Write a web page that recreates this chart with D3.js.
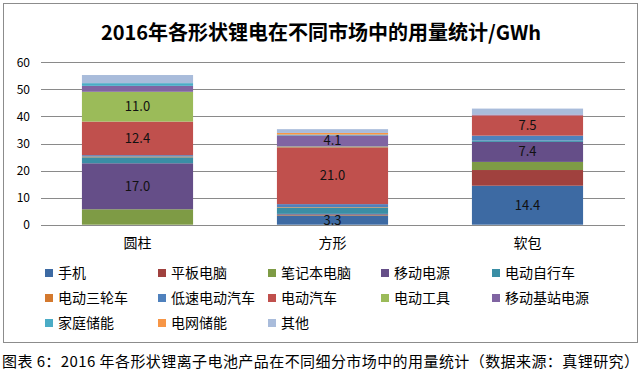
<!DOCTYPE html>
<html><head><meta charset="utf-8">
<script src="https://cdn.jsdelivr.net/npm/d3@7/dist/d3.min.js"></script>
<style>
html,body{margin:0;padding:0;background:#fff;}
svg{display:block;font-family:"Noto Sans CJK SC","Noto Sans",sans-serif;}
</style></head>
<body><svg id="c" width="643" height="379"></svg>
<script>
const categories = ["圆柱", "方形", "软包"];
const seriesNames = ["手机","平板电脑","笔记本电脑","移动电源","电动自行车","电动三轮车","低速电动汽车","电动汽车","电动工具","移动基站电源","家庭储能","电网储能","其他"];
// values per series for [圆柱, 方形, 软包]
const s手机 = [0, 3.3, 14.4];
const s平板电脑 = [0, 0.2, 5.8];
const s笔记本电脑 = [5.7, 0.2, 3.0];
const s移动电源 = [17.0, 0.3, 7.4];
const s电动自行车 = [2.2, 2.3, 0.5];
const s电动三轮车 = [0.3, 0.2, 0];
const s低速电动汽车 = [0.5, 1.1, 1.8];
const s电动汽车 = [12.4, 21.0, 7.5];
const s电动工具 = [11.0, 0.3, 0];
const s移动基站电源 = [2.2, 4.1, 0.3];
const s家庭储能 = [1.0, 0.3, 0];
const s电网储能 = [0, 0.6, 0];
const s其他 = [3.0, 1.4, 2.2];
const seriesValues = [s手机,s平板电脑,s笔记本电脑,s移动电源,s电动自行车,s电动三轮车,s低速电动汽车,s电动汽车,s电动工具,s移动基站电源,s家庭储能,s电网储能,s其他];
// which [series, category] segments carry a data label
const labeled = [[3,0],[7,0],[8,0],[0,1],[7,1],[9,1],[0,2],[3,2],[7,2]];
const yTicks = [0,10,20,30,40,50,60];
const colors = ["#3D6AA3","#A0413E","#7E9B45","#654E88","#3A8EA5","#D4792E","#4F81BD","#C0504D","#9BBB59","#8064A2","#4BACC6","#F79646","#A9BCDB"];

const svg = d3.select("#c");
// outer border
svg.append("rect").attr("x",3.5).attr("y",3.5).attr("width",634).attr("height",339)
  .attr("fill","#fff").attr("stroke","#8c8c8c").attr("stroke-width",1);

svg.append("text").attr("x",321).attr("y",40).attr("text-anchor","middle")
  .attr("font-size",20).attr("font-weight","bold").attr("fill","#000")
  .text("2016年各形状锂电在不同市场中的用量统计/GWh");

const x = d3.scaleBand().domain(categories).range([40,625]).paddingInner(0.43).paddingOuter(0.215);
const y = d3.scaleLinear().domain([0,60]).range([224.7,62.3]);

// gridlines
svg.append("g").selectAll("line").data(yTicks).join("line")
  .attr("x1",41).attr("x2",625).attr("y1",d=>Math.round(y(d))+0.5).attr("y2",d=>Math.round(y(d))+0.5)
  .attr("stroke","#8a8a8a").attr("stroke-width",1);

// y axis labels
const ya = svg.append("g").attr("transform","translate(34,0)")
  .call(d3.axisLeft(y).tickValues(yTicks).tickSize(0).tickPadding(4));
ya.select(".domain").remove();
ya.selectAll("text").attr("font-size",12).attr("fill","#000").attr("font-family","\"Noto Sans CJK SC\",sans-serif");

// stacked bars
const table = categories.map((c,ci)=>{ const o={cat:c}; seriesNames.forEach((s,si)=>o[s]=seriesValues[si][ci]); return o; });
const stacked = d3.stack().keys(seriesNames)(table);
const bars = svg.append("g");
stacked.forEach((layer,si)=>{
  bars.append("g").attr("fill",colors[si]).selectAll("rect").data(layer).join("rect")
    .attr("x",d=>x(d.data.cat)).attr("width",x.bandwidth())
    .attr("y",d=>y(d[1])).attr("height",d=>Math.max(0,y(d[0])-y(d[1])));
});
// data labels
svg.append("g").selectAll("text").data(labeled).join("text")
  .attr("x",d=>x(categories[d[1]])+x.bandwidth()/2)
  .attr("y",d=>{const seg=stacked[d[0]][d[1]]; return (y(seg[0])+y(seg[1]))/2+4.5;})
  .attr("text-anchor","middle").attr("font-size",13).attr("fill","#111")
  .text(d=>seriesValues[d[0]][d[1]].toFixed(1));

// category labels
svg.append("g").selectAll("text").data(categories).join("text")
  .attr("x",d=>x(d)+x.bandwidth()/2).attr("y",248).attr("text-anchor","middle")
  .attr("font-size",14).attr("fill","#000").text(d=>d);

// legend
const legX = [45,158,268,381,492];
const legY = [273,298,323];
const lg = svg.append("g").selectAll("g").data(seriesNames).join("g")
  .attr("transform",(d,i)=>`translate(${legX[i%5]},${legY[Math.floor(i/5)]})`);
lg.append("rect").attr("x",0).attr("y",-4).attr("width",8).attr("height",8).attr("fill",(d,i)=>colors[i]);
lg.append("text").attr("x",13).attr("y",5).attr("font-size",14).attr("fill","#000").text(d=>d);

// caption
svg.append("text").attr("x",2).attr("y",367).attr("font-size",15).attr("fill","#000")
  .attr("textLength",637).attr("lengthAdjust","spacing")
  .text("图表 6：2016 年各形状锂离子电池产品在不同细分市场中的用量统计（数据来源：真锂研究）");
</script></body></html>
